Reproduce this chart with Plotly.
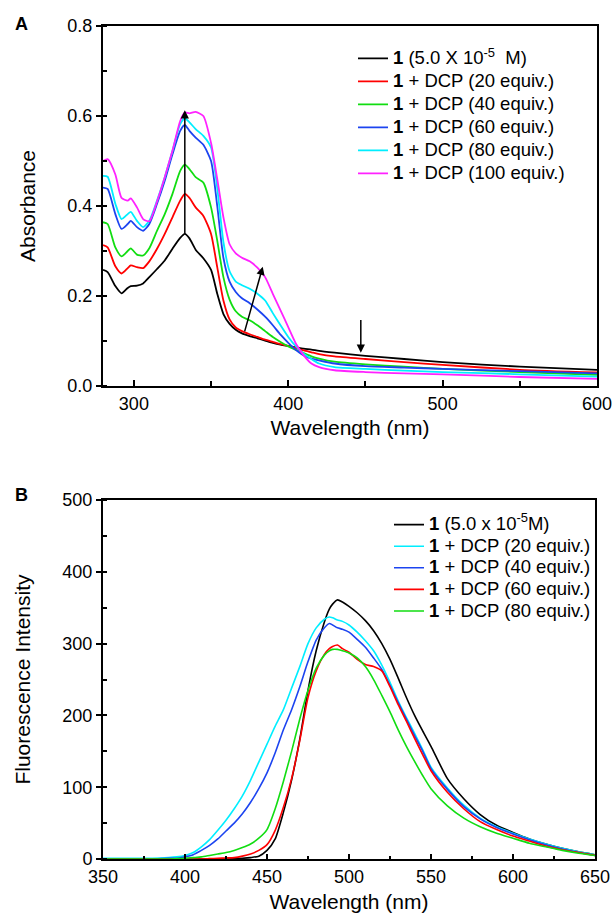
import plotly.graph_objects as go

# ---------------- Panel A: absorbance ----------------
wl_abs = [280, 283, 288, 292, 296, 298, 302, 306, 310, 315, 320, 325, 330, 333, 336, 340, 345, 350,
          354, 358, 362, 366, 370, 375, 380, 385, 390, 395, 400, 405, 410, 415, 420, 430, 450, 475,
          500, 550, 600]
abs_1 = [0.258, 0.253, 0.222, 0.206, 0.218, 0.222, 0.223, 0.228, 0.242, 0.260, 0.279, 0.305, 0.329,
         0.338, 0.328, 0.303, 0.284, 0.258, 0.205, 0.160, 0.138, 0.125, 0.117, 0.111, 0.106, 0.101,
         0.096, 0.092, 0.089, 0.086, 0.083, 0.081, 0.078, 0.074, 0.067, 0.060, 0.053, 0.043, 0.036]
abs_20 = [0.313, 0.308, 0.266, 0.250, 0.262, 0.268, 0.264, 0.262, 0.277, 0.305, 0.338, 0.375, 0.412,
          0.427, 0.418, 0.397, 0.378, 0.338, 0.264, 0.190, 0.148, 0.130, 0.122, 0.115, 0.109, 0.103,
          0.098, 0.093, 0.089, 0.084, 0.079, 0.075, 0.071, 0.066, 0.060, 0.053, 0.047, 0.036, 0.030]
abs_40 = [0.364, 0.360, 0.308, 0.288, 0.300, 0.306, 0.292, 0.290, 0.306, 0.345, 0.382, 0.427, 0.478,
          0.492, 0.482, 0.464, 0.452, 0.397, 0.323, 0.242, 0.192, 0.166, 0.154, 0.146, 0.135, 0.122,
          0.109, 0.098, 0.088, 0.080, 0.073, 0.066, 0.061, 0.054, 0.048, 0.043, 0.038, 0.031, 0.025]
abs_60 = [0.441, 0.438, 0.382, 0.349, 0.360, 0.367, 0.353, 0.345, 0.360, 0.405, 0.456, 0.515, 0.567,
          0.580, 0.567, 0.552, 0.536, 0.500, 0.400, 0.285, 0.232, 0.209, 0.195, 0.184, 0.170, 0.154,
          0.135, 0.114, 0.096, 0.080, 0.068, 0.061, 0.057, 0.050, 0.044, 0.041, 0.038, 0.033, 0.028]
abs_80 = [0.467, 0.465, 0.405, 0.371, 0.382, 0.387, 0.367, 0.353, 0.367, 0.412, 0.464, 0.523, 0.582,
          0.595, 0.586, 0.571, 0.556, 0.530, 0.440, 0.320, 0.255, 0.232, 0.224, 0.216, 0.205, 0.190,
          0.162, 0.135, 0.109, 0.088, 0.072, 0.060, 0.050, 0.042, 0.038, 0.034, 0.031, 0.026, 0.021]
abs_100 = [0.500, 0.504, 0.470, 0.418, 0.412, 0.417, 0.397, 0.371, 0.366, 0.410, 0.464, 0.523, 0.589,
           0.608, 0.606, 0.609, 0.600, 0.540, 0.460, 0.375, 0.315, 0.295, 0.285, 0.277, 0.263, 0.242,
           0.205, 0.168, 0.131, 0.094, 0.068, 0.050, 0.042, 0.035, 0.031, 0.028, 0.026, 0.020, 0.016]

abs_names = ["<b>1</b> (5.0 X 10<sup>-5</sup>&nbsp; M)", "<b>1</b> + DCP (20 equiv.)",
             "<b>1</b> + DCP (40 equiv.)", "<b>1</b> + DCP (60 equiv.)",
             "<b>1</b> + DCP (80 equiv.)", "<b>1</b> + DCP (100 equiv.)"]
abs_colors = ["#000000", "#ff0000", "#11dd11", "#1c44f0", "#00eeff", "#ff22ff"]

# arrows (tail -> head) in data units of panel A
arrow_tail_x = [333, 371.5, 447]
arrow_tail_y = [0.335, 0.118, 0.150]
arrow_head_x = [333, 383.5, 447]
arrow_head_y = [0.613, 0.265, 0.074]

# ---------------- Panel B: fluorescence ----------------
wl_fl = [350, 360, 370, 380, 390, 395, 400, 405, 410, 415, 420, 425, 430, 435, 440, 445, 450, 455,
         460, 465, 470, 475, 480, 485, 488, 490, 493, 496, 500, 505, 510, 515, 520, 525, 530, 535,
         540, 545, 550, 560, 570, 580, 590, 600, 610, 620, 630, 640, 650]
fl_1 = [0, 0, 0, 0, 0, 0, 0, 0, 0, 0, 0, 0, 0.5, 1, 2, 4, 12, 28, 65, 110, 167, 235, 290, 330, 348,
        355, 361, 358, 352, 343, 332, 318, 300, 278, 252, 225, 200, 178, 157, 112, 84, 62, 47, 37,
        28, 21, 15, 10, 6]
fl_20 = [1, 1, 1, 1, 2, 3, 5, 9, 17, 27, 40, 54, 70, 88, 110, 135, 160, 185, 208, 238, 268, 300,
         322, 334, 337, 336, 333, 331, 326, 316, 304, 290, 270, 246, 220, 197, 175, 152, 128, 99, 75,
         57, 45, 36, 28, 21, 15, 10, 6]
fl_40 = [0, 0, 0, 0, 1, 1, 3, 6, 12, 19, 28, 39, 50, 63, 79, 98, 120, 148, 180, 208, 240, 275, 305,
         322, 328, 326, 322, 320, 316, 306, 295, 280, 264, 242, 218, 195, 172, 150, 126, 97, 73, 56,
         44, 35, 27, 20, 14, 9, 5]
fl_60 = [0, 0, 0, 0, 0, 0, 0, 0, 0, 0.5, 1, 1.5, 2, 4, 7, 12, 20, 40, 72, 112, 165, 225, 262, 285,
         293, 296, 298, 293, 288, 278, 271, 268, 262, 240, 215, 192, 168, 145, 123, 93, 70, 52, 41,
         32, 25, 18, 13, 9, 5]
fl_80 = [0, 0, 0, 0, 0, 0.5, 1, 2, 3, 5, 7, 9, 12, 16, 21, 29, 41, 70, 108, 150, 195, 235, 266, 284,
         290, 292, 292, 290, 287, 280, 268, 250, 228, 205, 180, 157, 136, 116, 98, 74, 57, 45, 36,
         29, 22, 17, 12, 8, 5]

fl_names = ["<b>1</b> (5.0 x 10<sup>-5</sup>M)", "<b>1</b> + DCP (20 equiv.)",
            "<b>1</b> + DCP (40 equiv.)", "<b>1</b> + DCP (60 equiv.)",
            "<b>1</b> + DCP (80 equiv.)"]
fl_colors = ["#000000", "#00eeff", "#1c44f0", "#ff0000", "#11dd11"]

FONT = "Arial, Liberation Sans, sans-serif"


def big(s):
    return '<span style="font-size:18.5px">' + s + '</span>'


fig = go.Figure()
for ys, nm, col in zip([abs_1, abs_20, abs_40, abs_60, abs_80, abs_100], abs_names, abs_colors):
    fig.add_trace(go.Scatter(x=wl_abs, y=ys, mode="lines", name=big(nm),
                             line=dict(color=col, width=1.8, shape="spline", smoothing=0.6),
                             xaxis="x", yaxis="y", legend="legend"))
for ys, nm, col in zip([fl_1, fl_20, fl_40, fl_60, fl_80], fl_names, fl_colors):
    fig.add_trace(go.Scatter(x=wl_fl, y=ys, mode="lines", name=big(nm),
                             line=dict(color=col, width=1.6, shape="spline", smoothing=0.6),
                             xaxis="x2", yaxis="y2", legend="legend2"))

axis_common = dict(showline=True, linewidth=2, linecolor="black", mirror=True, showgrid=False,
                   zeroline=False, tickcolor="black", tickwidth=1.5, automargin=False,
                   ticklabeloverflow="allow",
                   tickfont=dict(family=FONT, size=18, color="black"))

fig.update_layout(
    width=612, height=916,
    margin=dict(l=0, r=0, t=0, b=0, autoexpand=False),
    paper_bgcolor="white", plot_bgcolor="white",
    font=dict(family=FONT, color="black"),
    hovermode=False,
    xaxis=dict(domain=[0.1683, 0.9755], anchor="y", range=[280, 600], tick0=300, dtick=100,
               ticks="inside", ticklen=6,
               minor=dict(tick0=300, dtick=50, ticks="inside", ticklen=5, tickcolor="black"),
               title=dict(text="Wavelength (nm)", font=dict(size=21), standoff=8),
               **axis_common),
    yaxis=dict(domain=[0.5786, 0.9716], anchor="x", range=[0, 0.8], dtick=0.2, tickformat=".1f",
               ticks="outside", ticklen=5,
               minor=dict(dtick=0.1, ticks="inside", ticklen=4, tickcolor="black"),
               title=dict(text="Absorbance", font=dict(size=21), standoff=26),
               **axis_common),
    xaxis2=dict(domain=[0.1683, 0.9722], anchor="y2", range=[350, 650], dtick=50,
                ticks="inside", ticklen=5,
                minor=dict(dtick=25, ticks="inside", ticklen=3, tickcolor="black"),
                title=dict(text="Wavelength (nm)", font=dict(size=21), standoff=9),
                **axis_common),
    yaxis2=dict(domain=[0.0622, 0.4541], anchor="x2", range=[0, 500], dtick=100,
                ticks="outside", ticklen=5,
                minor=dict(dtick=50, ticks="inside", ticklen=4, tickcolor="black"),
                title=dict(text="Fluorescence Intensity", font=dict(size=21), standoff=26),
                **axis_common),
    legend=dict(x=353 / 612, y=1 - 41.8 / 916, xanchor="left", yanchor="top",
                font=dict(size=15.4, family=FONT), bgcolor="rgba(0,0,0,0)", borderwidth=0),
    legend2=dict(x=389 / 612, y=1 - 508.8 / 916, xanchor="left", yanchor="top",
                 font=dict(size=14.3, family=FONT), bgcolor="rgba(0,0,0,0)", borderwidth=0),
    showlegend=True,
)

for tx, ty, hx, hy in zip(arrow_tail_x, arrow_tail_y, arrow_head_x, arrow_head_y):
    fig.add_annotation(x=hx, y=hy, ax=tx, ay=ty, xref="x", yref="y", axref="x", ayref="y",
                       showarrow=True, arrowhead=2, arrowsize=1.1, arrowwidth=1.5,
                       arrowcolor="black", text="")

fig.add_annotation(text="<b>A</b>", x=21 / 612, y=1 - 24 / 916, xref="paper", yref="paper",
                   xanchor="center", yanchor="middle", showarrow=False,
                   font=dict(size=18, family=FONT, color="black"))
fig.add_annotation(text="<b>B</b>", x=21 / 612, y=1 - 495 / 916, xref="paper", yref="paper",
                   xanchor="center", yanchor="middle", showarrow=False,
                   font=dict(size=18, family=FONT, color="black"))

fig.write_html("out.html", config={"displayModeBar": False},
               post_script="document.body.style.margin='0';document.body.style.overflow='hidden';")
